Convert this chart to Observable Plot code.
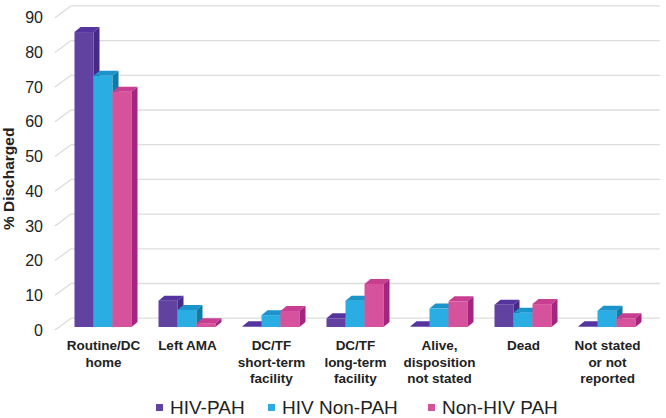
<!DOCTYPE html>
<html>
<head>
<meta charset="utf-8">
<script src="https://cdn.jsdelivr.net/npm/d3@7"></script>
<script src="https://cdn.jsdelivr.net/npm/@observablehq/plot@0.6"></script>
<style>
  body { margin: 0; background: #fff; font-family: "Liberation Sans", Arial, sans-serif; }
  #chart svg { display: block; }
  #legend { position: relative; height: 26px; margin-top: 3px; font-size: 19px; color: #222; white-space: nowrap; }
  #legend .item { position: absolute; top: 0; line-height: 26px; }
  #legend .sw { display: inline-block; width: 7px; height: 7px; margin-right: 7px; vertical-align: 3px; }
</style>
</head>
<body>
<div id="chart"></div>
<div id="legend"></div>
<script>
const categories = ["Routine/DC home", "Left AMA", "DC/TF short-term facility", "DC/TF long-term facility", "Alive, disposition not stated", "Dead", "Not stated or not reported"];
const categoryLabels = ["Routine/DC\nhome", "Left AMA", "DC/TF\nshort-term\nfacility", "DC/TF\nlong-term\nfacility", "Alive,\ndisposition\nnot stated", "Dead", "Not stated\nor not\nreported"];
const seriesNames = ["HIV-PAH", "HIV Non-PAH", "Non-HIV PAH"];
const hivPah = [85, 7.6, 0.2, 2.5, 0.2, 6.4, 0.2];
const hivNonPah = [72.4, 4.9, 3.4, 7.6, 5.3, 4.1, 4.7];
const nonHivPah = [67.8, 1.1, 4.6, 12.4, 7.4, 6.6, 2.5];
const yTicks = [0, 10, 20, 30, 40, 50, 60, 70, 80, 90];

const seriesValues = [hivPah, hivNonPah, nonHivPah];
const palette = [
  {front: "#6242a0", top: "#5634a0", side: "#472a88"},
  {front: "#2aade3", top: "#1a94cb", side: "#0e7ca6"},
  {front: "#d6529d", top: "#c83f92", side: "#a6247f"}
];
const barW = 19, groupOff = 13.5, depthX = 6, depthY = 5;

function seriesMarks(i) {
  const data = categories.map((c, k) => ({category: c, series: seriesNames[i], value: seriesValues[i][k]}));
  const front = Plot.barY(data, {
    x: "category", y: "value", fill: palette[i].front,
    insetLeft: groupOff + barW * i, insetRight: 84 - groupOff - barW * (i + 1)
  });
  const faces = (index, scales) => {
    const g = d3.create("svg:g");
    data.forEach(d => {
      const x0 = scales.x(d.category) + groupOff + barW * i;
      const x1 = x0 + barW;
      const yt = scales.y(d.value), yb = scales.y(0);
      g.append("polygon")
        .attr("points", [[x0, yt], [x1, yt], [x1 + depthX, yt - depthY], [x0 + depthX, yt - depthY]].join(" "))
        .attr("fill", palette[i].top);
      g.append("polygon")
        .attr("points", [[x1, yt], [x1 + depthX, yt - depthY], [x1 + depthX, yb - depthY], [x1, yb]].join(" "))
        .attr("fill", palette[i].side);
    });
    return g.node();
  };
  return [front, faces];
}

const diagonals = (index, scales, values, dims) => {
  const g = d3.create("svg:g").attr("stroke", "#dcdcdc").attr("stroke-width", 1.3);
  yTicks.forEach(v => {
    g.append("line")
      .attr("x1", dims.marginLeft - 5.5).attr("y1", scales.y(v) + 3)
      .attr("x2", dims.marginLeft + 11.2).attr("y2", scales.y(v) - 9.3);
  });
  return g.node();
};

const plot = Plot.plot({
  width: 666,
  height: 392,
  marginLeft: 60.5,
  marginRight: 17.5,
  marginTop: 14.7,
  marginBottom: 65,
  x: {domain: categories, type: "band", padding: 0},
  y: {domain: [0, 90]},
  style: {fontFamily: '"Liberation Sans", Arial, sans-serif', color: "#222", background: "#fff", overflow: "visible"},
  marks: [
    Plot.ruleY(yTicks, {stroke: "#dcdcdc", strokeWidth: 1.3, dx: 11.2, dy: -9.3}),
    diagonals,
    Plot.axisY(yTicks, {tickSize: 0, tickPadding: 18, dy: 3, fontSize: 16, label: null}),
    Plot.axisX({tickSize: 0, tickPadding: 11, fontSize: 13.5, fontWeight: "bold", lineHeight: 1.22,
      tickFormat: d => categoryLabels[categories.indexOf(d)], label: null}),
    Plot.text(["% Discharged"], {frameAnchor: "left", textAnchor: "middle", lineAnchor: "middle", rotate: -90, dx: -51.5, dy: 7.5, fontSize: 15.5, fontWeight: "bold"}),
    ...seriesMarks(0),
    ...seriesMarks(1),
    ...seriesMarks(2)
  ]
});
document.getElementById("chart").appendChild(plot);

const legendPos = [156, 268, 428];
const legend = document.getElementById("legend");
seriesNames.forEach((name, i) => {
  const item = document.createElement("span");
  item.className = "item";
  item.style.left = legendPos[i] + "px";
  item.innerHTML = `<span class="sw" style="background:${palette[i].front}"></span>${name}`;
  legend.appendChild(item);
});
</script>
</body>
</html>
